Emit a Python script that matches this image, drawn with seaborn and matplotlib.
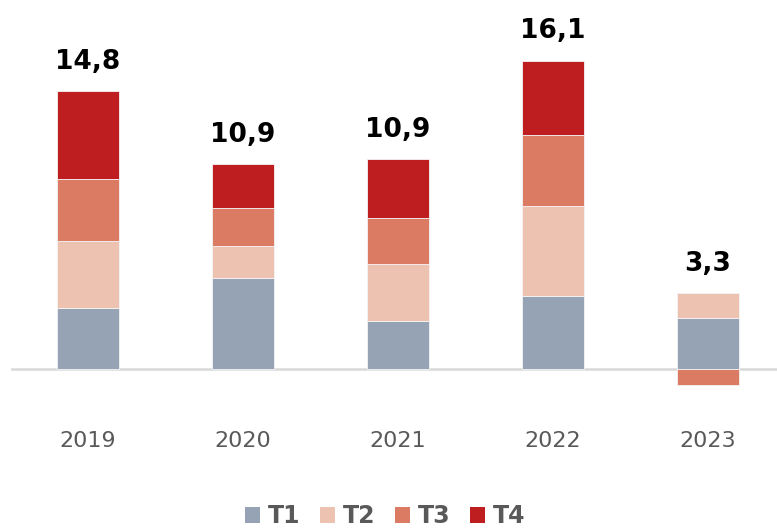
import numpy as np
import matplotlib
matplotlib.use("Agg")
import matplotlib.pyplot as plt
import seaborn as sns
import pandas as pd
from matplotlib.patches import Patch

years = ["2019", "2020", "2021", "2022", "2023"]
t1 = [3.21, 4.77, 2.54, 3.86, 2.68]
t2 = [3.53, 1.70, 2.97, 4.72, 1.32]
t3 = [3.26, 1.98, 2.42, 3.74, -0.84]
t4 = [4.63, 2.33, 3.12, 3.91, 0.0]
totals = [14.8, 10.9, 10.9, 16.1, 3.3]

series = ["T1", "T2", "T3", "T4"]
colors = ["#95a3b5", "#eec2b0", "#db7b64", "#be1e20"]

sns.set_theme(style="white")
plt.rcParams["font.family"] = ["DejaVu Sans"]

fig = plt.figure(figsize=(7.77, 5.28), dpi=100)
W, H = 777, 528
px = 19.0  # pixels per unit
base = 369
ax_bot, ax_top = 395, 20
ax = fig.add_axes([11 / W, 1 - ax_bot / H, 1 - 11 / W, (ax_bot - ax_top) / H])

# stack positives upward, negatives downward
pos_bottom = np.zeros(len(years))
neg_bottom = np.zeros(len(years))
for name, vals, col in zip(series, [t1, t2, t3, t4], colors):
    vals = np.array(vals)
    bottom = np.where(vals >= 0, pos_bottom, neg_bottom)
    df = pd.DataFrame({"year": years, "value": vals})
    sns.barplot(data=df, x="year", y="value", color=col, width=0.4,
                bottom=bottom, errorbar=None, ax=ax, saturation=1,
                edgecolor="#f4f4f4", linewidth=0.6)
    pos_bottom = pos_bottom + np.where(vals > 0, vals, 0)
    neg_bottom = neg_bottom + np.where(vals < 0, vals, 0)

for i, (top, tot) in enumerate(zip(pos_bottom, totals)):
    ax.annotate(f"{tot:.1f}".replace(".", ","), (i, top), xytext=(0, 21),
                textcoords="offset points", ha="center", va="center",
                fontsize=19, fontweight="heavy", color="black")

ax.axhline(0, color="#d9d9d9", linewidth=1.8, zorder=0)
ax.set_xlim(-(88 - 11) / 155, (W - 88) / 155)
ax.set_ylim(-(ax_bot - base) / px, (base - ax_top) / px)
for s in ax.spines.values():
    s.set_visible(False)
ax.set_yticks([])
ax.set_xlabel("")
ax.set_ylabel("")
ax.tick_params(axis="x", length=0, pad=26, labelsize=16, labelcolor="#595959")

handles = [Patch(facecolor=c, edgecolor="none", label=s) for s, c in zip(series, colors)]
leg = fig.legend(handles=handles, loc="center", bbox_to_anchor=(385 / W, 1 - 516 / H),
                 ncol=4, frameon=False, handlelength=0.65, handleheight=0.65,
                 handletextpad=0.3, columnspacing=0.85,
                 prop={"size": 17, "weight": "bold"})
for t in leg.get_texts():
    t.set_color("#595959")

fig.savefig("out.png", dpi=100)
